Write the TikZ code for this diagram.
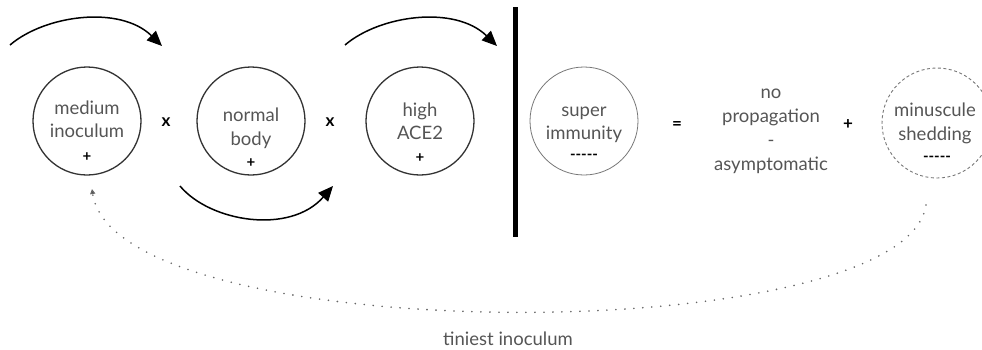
\documentclass[tikz,border=0pt]{standalone}
\usepackage{fontspec}
\setmainfont{Lato}
\usetikzlibrary{arrows.meta}
\definecolor{txtgray}{HTML}{555555}
\definecolor{ringdark}{HTML}{333333}
\definecolor{ringlight}{HTML}{777777}
\definecolor{dotgray}{HTML}{666666}
\tikzset{
  ring/.style={circle,draw=ringdark,line width=1.3pt,minimum size=108pt,inner sep=0pt},
  ringthin/.style={circle,draw=ringlight,line width=0.8pt,minimum size=108pt,inner sep=0pt},
  ringdash/.style={circle,draw=ringlight,line width=0.9pt,dash pattern=on 3pt off 2.5pt,minimum size=110pt,inner sep=0pt},
  lbl/.style={text=txtgray,font=\fontsize{18.5}{21}\selectfont,inner sep=0pt,anchor=base},
  sign/.style={text=black,font=\fontsize{15}{17}\selectfont\bfseries,inner sep=0pt},
  op/.style={text=black,font=\fontsize{17}{19}\selectfont\bfseries,inner sep=0pt},
  bigarc/.style={line width=1.5pt,draw=black,-{Triangle[length=15pt,width=13pt]}},
  dotline/.style={draw=dotgray,line width=1.8pt,line cap=round,dash pattern=on 0pt off 9pt,-{Triangle[length=5pt,width=5pt,fill=black]}},
}
\begin{document}
\begin{tikzpicture}[x=1pt,y=-1pt]
\useasboundingbox (0,0) rectangle (982,349);
\begin{scope}
\clip (0,0) rectangle (982,349);
% circles
\node[ring] (m) at (87,121) {};
\node[ring] (n) at (251,121) {};
\node[ring] (h) at (420,121) {};
\node[ringthin] (s) at (584,121) {};
\node[ringdash] (ms) at (937,123) {};
\end{scope}
% texts in circles
\node[lbl] (m1) at (87,114) {medium};
\node[lbl] (m2) at (87,137) {inoculum};
\node[sign] (m3) at (87,157) {+};
\node[lbl] (n1) at (251,121) {normal};
\node[lbl] (n2) at (251,145) {body};
\node[sign] (n3) at (251,163) {+};
\node[lbl] (h1) at (420,116) {high};
\node[lbl] (h2) at (420,139) {ACE2};
\node[sign] (h3) at (420,158) {+};
\node[lbl] (s1) at (584,116) {super};
\node[lbl] (s2) at (584,139) {immunity};
\node[sign] (s3) at (584,157) {-{}-{}-{}-{}-};
\node[lbl] (ms1) at (935,116) {minuscule};
\node[lbl] (ms2) at (935,140) {shedding};
\node[sign] (ms3) at (937,159) {-{}-{}-{}-{}-};
% operators
\node[op] (x1) at (166,122) {x};
\node[op] (x2) at (330,122) {x};
\node[op] (eq) at (677,125) {=};
\node[op] (pl) at (848,125) {+};
% result text
\node[lbl] (r1) at (771,98) {no};
\node[lbl] (r2) at (771,122) {propagation};
\node[lbl] (r3) at (771,146) {-};
\node[lbl] (r4) at (771,170) {asymptomatic};
% vertical bar
\coordinate (bt) at (515,7);
\coordinate (bb) at (515,237);
\draw[line width=5pt] (bt) -- (bb);
% arcs
\coordinate (a1s) at (10,45);
\coordinate (a1e) at (162,46);
\coordinate (a2s) at (345,45);
\coordinate (a2e) at (497,46);
\coordinate (a3s) at (180,186);
\coordinate (a3e) at (333,186);
\draw[bigarc] (a1s) .. controls (45,15) and (120,5) .. (a1e);
\draw[bigarc] (a2s) .. controls (380,15) and (455,5) .. (a2e);
\draw[bigarc] (a3s) .. controls (210,222) and (290,235) .. (a3e);
% dotted feedback
\coordinate (d1) at (926,205);
\coordinate (d2) at (92,189);
\draw[dotline] (d1) .. controls (905,350) and (115,350) .. (d2);
\node[lbl] (ti) at (508,345) {tiniest inoculum};
\end{tikzpicture}
\end{document}
